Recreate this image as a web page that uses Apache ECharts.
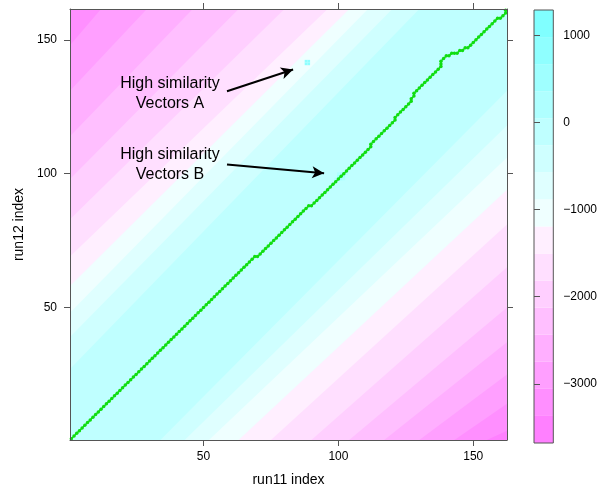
<!DOCTYPE html>
<html><head><meta charset="utf-8">
<script src="https://cdn.jsdelivr.net/npm/echarts@6/dist/echarts.min.js"></script>
<style>html,body{margin:0;padding:0;background:#fff}#c{width:600px;height:492px}</style>
</head><body><div id="c"></div>
<script>
// ---------- data ----------
const xTicks = [50, 100, 150];
const yTicks = [50, 100, 150];
const cbTicks = [-3000, -2000, -1000, 0, 1000];
const xRange = [0.5, 162.5];
const yRange = [0.5, 161.5];
const zRange = [-3680, 1290];
const levelCount = 16;
const levelColors = ['#FF80FF','#FF8FFF','#FF9FFF','#FFAFFF','#FFBFFF','#FFCFFF','#FFDFFF','#FFEFFF',
                     '#EFFFFF','#DFFFFF','#CFFFFF','#BFFFFF','#AFFFFF','#9FFFFF','#8FFFFF','#80FFFF'];
const ridgeLevel = 11;
// upper-left contour lines: boundary k separates level k-1 (outside) from level k (inside)
const ulBreaks = [11, 10, 9, 8, 7, 6, 5, 4, 3, 2];
const ulLines = [
  [[0.5, 27], [130, 161.5]],
  [[0.5, 39], [120, 161.5]],
  [[0.5, 48], [111, 161.5]],
  [[0.5, 58], [104, 161.5]],
  [[0.5, 69], [96, 161.5]],
  [[0.5, 83], [80, 161.5]],
  [[0.5, 98], [63, 161.5]],
  [[0.5, 114], [46, 161.5]],
  [[0.5, 131], [29, 161.5]],
  [[0.5, 148], [12, 161.5]]
];
// lower-right contour lines
const lrBreaks = [11, 10, 9, 8, 7, 6, 5, 4, 3, 2, 1];
const lrLines = [
  [[34, 0.5], [162.5, 131]],
  [[43, 0.5], [162.5, 118]],
  [[52, 0.5], [162.5, 106]],
  [[63, 0.5], [162.5, 94]],
  [[75, 0.5], [162.5, 81]],
  [[90, 0.5], [162.5, 65]],
  [[104, 0.5], [162.5, 50]],
  [[117, 0.5], [162.5, 37]],
  [[130, 0.5], [162.5, 25]],
  [[143, 0.5], [162.5, 14]],
  [[155, 0.5], [162.5, 4]]
];
// isolated high-similarity cells
const spotX = [88, 89, 88, 89, 100, 101, 102, 101, 101, 100, 102, 99, 103, 100, 102];
const spotY = [142, 142, 141, 141, 99, 99, 99, 98, 100, 98, 100, 98, 100, 100, 98];
const spotZ = [900, 900, 900, 900, 500, 500, 500, 500, 500, 500, 500, 200, 200, 200, 200];
// warping path
const pathX = [1,2,3,4,5,6,7,8,9,10,11,12,13,14,15,16,17,18,19,20,21,22,23,24,25,26,27,28,29,30,31,32,33,34,35,36,37,38,39,40,41,42,43,44,45,46,47,48,49,50,51,52,53,54,55,56,57,58,59,60,61,62,63,64,65,66,67,68,69,
  70,71,72,73,74,75,76,77,78,79,80,81,82,83,84,85,86,87,88,89,
  90,91,92,93,94,95,96,97,98,99,100,101,102,103,104,105,106,107,108,109,110,111,
  112,112,
  113,114,115,116,117,118,119,120,121,
  121,
  122,123,124,125,126,127,
  127,
  128,128,
  129,130,131,132,133,134,135,136,137,
  138,138,138,139,140,
  141,142,143,144,145,146,147,148,149,150,
  151,152,153,154,155,156,157,158,
  159,160,161,162,162];
const pathY = [1,2,3,4,5,6,7,8,9,10,11,12,13,14,15,16,17,18,19,20,21,22,23,24,25,26,27,28,29,30,31,32,33,34,35,36,37,38,39,40,41,42,43,44,45,46,47,48,49,50,51,52,53,54,55,56,57,58,59,60,61,62,63,64,65,66,67,68,69,
  69,70,71,72,73,74,75,76,77,78,79,80,81,82,83,84,85,86,87,88,
  88,89,90,91,92,93,94,95,96,97,98,99,100,101,102,103,104,105,106,107,108,109,
  110,111,
  112,113,114,115,116,117,118,119,120,
  121,
  122,123,124,125,126,127,
  128,
  129,130,
  131,132,133,134,135,136,137,138,139,
  140,141,142,143,144,
  144,145,145,145,146,146,147,147,148,149,
  150,151,152,153,154,155,156,157,
  158,158,159,160,161];
const notes = ['High similarity\nVectors A', 'High similarity\nVectors B'];
const arrowFrom = [[58.7, 130.8], [58.7, 103.4]];
const arrowTo = [[83.2, 138.9], [94.7, 100.1]];

// ---------- derived ----------
const X0 = xRange[0], X1 = xRange[1], Y0 = yRange[0], Y1 = yRange[1];
const bw = (zRange[1] - zRange[0]) / levelCount;
const breaks = Array.from({length: levelCount + 1}, (_, i) => zRange[0] + i * bw);
function levelOf(v) { return Math.max(0, Math.min(levelCount - 1, Math.floor((v - zRange[0]) / bw))); }

const polys = [];
polys.push({pts: [[X0, Y0], [X1, Y0], [X1, Y1], [X0, Y1]], color: levelColors[ridgeLevel]});
ulLines.forEach((ln, i) => {
  const s = ln[0], e = ln[ln.length - 1];
  const pts = ln.slice();
  if (e[0] >= X1 && e[1] < Y1) pts.push([X1, Y1]);
  pts.push([X0, Y1]);
  if (s[1] <= Y0 && s[0] > X0) pts.push([X0, Y0]);
  polys.push({pts, color: levelColors[ulBreaks[i] - 1]});
});
lrLines.forEach((ln, i) => {
  const s = ln[0], e = ln[ln.length - 1];
  const pts = ln.slice();
  if (e[1] >= Y1 && e[0] < X1) pts.push([X1, Y1]);
  pts.push([X1, Y0]);
  if (s[0] <= X0 && s[1] > Y0) pts.push([X0, Y0]);
  polys.push({pts, color: levelColors[lrBreaks[i] - 1]});
});

const font = 'Liberation Sans, Arial, Helvetica, sans-serif';
const axisCol = '#555555';
const chart = echarts.init(document.getElementById('c'), null, {renderer: 'canvas'});

const option = {
  animation: false,
  backgroundColor: '#ffffff',
  textStyle: {fontFamily: font},
  grid: [
    {left: 70, top: 9, width: 437, height: 434},
    {left: 534, top: 10, width: 21, height: 433}
  ],
  xAxis: [
    {gridIndex: 0, type: 'value', min: X0, max: X1, position: 'bottom', z: 10,
      axisLine: {show: true, lineStyle: {color: axisCol, width: 1}},
      axisTick: {show: true, customValues: xTicks, length: 6, lineStyle: {color: axisCol}},
      axisLabel: {show: true, customValues: xTicks, color: '#000', fontSize: 12, margin: 11, fontFamily: font},
      splitLine: {show: false},
      name: 'run11 index', nameLocation: 'middle', nameGap: 33,
      nameTextStyle: {color: '#000', fontSize: 14, fontFamily: font}},
    {gridIndex: 0, type: 'value', min: X0, max: X1, position: 'top', z: 10,
      axisLine: {show: true, lineStyle: {color: axisCol, width: 1}},
      axisTick: {show: true, customValues: xTicks, length: 6, lineStyle: {color: axisCol}},
      axisLabel: {show: false}, splitLine: {show: false}},
    {gridIndex: 1, type: 'value', min: 0, max: 1, show: false}
  ],
  yAxis: [
    {gridIndex: 0, type: 'value', min: Y0, max: Y1, position: 'left', z: 10,
      axisLine: {show: true, lineStyle: {color: axisCol, width: 1}},
      axisTick: {show: true, customValues: yTicks, length: 6, lineStyle: {color: axisCol}},
      axisLabel: {show: true, customValues: yTicks, color: '#000', fontSize: 12, margin: 13, fontFamily: font},
      splitLine: {show: false},
      name: 'run12 index', nameLocation: 'middle', nameGap: 43,
      nameTextStyle: {color: '#000', fontSize: 14, fontFamily: font}},
    {gridIndex: 0, type: 'value', min: Y0, max: Y1, position: 'right', z: 10,
      axisLine: {show: true, lineStyle: {color: axisCol, width: 1}},
      axisTick: {show: true, customValues: yTicks, length: 6, lineStyle: {color: axisCol}},
      axisLabel: {show: false}, splitLine: {show: false}},
    {gridIndex: 1, type: 'value', min: zRange[0], max: zRange[1], position: 'right', z: 10,
      axisLine: {show: false},
      axisTick: {show: true, customValues: cbTicks, length: 6, lineStyle: {color: axisCol}},
      axisLabel: {show: true, customValues: cbTicks, color: '#000', fontSize: 12, margin: 10, fontFamily: font,
        formatter: v => String(v).replace('-', '\u2212')},
      splitLine: {show: false}}
  ],
  series: [
    {type: 'custom', xAxisIndex: 0, yAxisIndex: 0, clip: true, z: 1,
      data: polys.map((p, i) => [p.pts[0][0], p.pts[0][1], i]),
      renderItem: (params, api) => {
        const p = polys[params.dataIndex];
        return {type: 'polygon', shape: {points: p.pts.map(q => api.coord(q))},
          style: {fill: p.color, stroke: null}};
      }},
    {type: 'custom', xAxisIndex: 0, yAxisIndex: 0, clip: true, z: 2,
      data: spotX.map((x, i) => [x, spotY[i], spotZ[i]]),
      renderItem: (params, api) => {
        const x = api.value(0), y = api.value(1), z = api.value(2);
        const a = api.coord([x - 0.5, y + 0.5]), b = api.coord([x + 0.5, y - 0.5]);
        return {type: 'rect', shape: {x: a[0], y: a[1], width: b[0] - a[0], height: b[1] - a[1]},
          style: {fill: levelColors[levelOf(z)]}};
      }},
    {type: 'line', xAxisIndex: 0, yAxisIndex: 0, z: 5,
      data: pathX.map((x, i) => [x, pathY[i]]),
      symbol: 'circle', symbolSize: 3.5, showSymbol: true,
      itemStyle: {color: '#11dd11'}, lineStyle: {color: '#11dd11', width: 1.5},
      markLine: {silent: true, symbol: ['none', 'arrow'], symbolSize: [9, 12],
        lineStyle: {color: '#000', width: 2, type: 'solid'}, label: {show: false},
        data: arrowFrom.map((f, i) => [{coord: f}, {coord: arrowTo[i]}])}},
    {type: 'custom', xAxisIndex: 2, yAxisIndex: 2, z: 1,
      data: breaks.slice(0, levelCount).map((b, i) => [0, b, i]),
      renderItem: (params, api) => {
        const i = params.dataIndex;
        const a = api.coord([0, breaks[i + 1]]), b = api.coord([1, breaks[i]]);
        const children = [{type: 'rect', shape: {x: a[0], y: a[1], width: b[0] - a[0], height: b[1] - a[1]},
          style: {fill: levelColors[i], stroke: null}}];
        if (i === levelCount - 1) {
          const t = api.coord([0, breaks[levelCount]]), u = api.coord([1, breaks[0]]);
          children.push({type: 'rect', z2: 10, shape: {x: t[0], y: t[1], width: u[0] - t[0], height: u[1] - t[1]},
            style: {fill: null, stroke: axisCol, lineWidth: 1}});
        }
        return {type: 'group', children};
      }}
  ],
  graphic: [
    {type: 'text', x: 170, y: 94, z: 20,
      style: {text: notes[0], x: 0, y: 0, align: 'center', verticalAlign: 'middle', font: '16px ' + font, fill: '#000', lineHeight: 20}},
    {type: 'text', x: 170, y: 165, z: 20,
      style: {text: notes[1], x: 0, y: 0, align: 'center', verticalAlign: 'middle', font: '16px ' + font, fill: '#000', lineHeight: 20}}
  ]
};
chart.setOption(option);
</script></body></html>
